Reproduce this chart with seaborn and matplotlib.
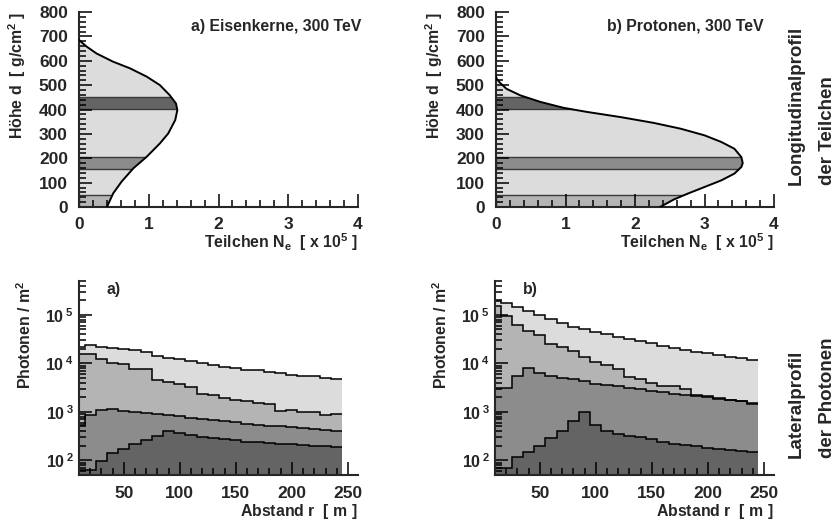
import numpy as np
import pandas as pd
import matplotlib
matplotlib.use("Agg")
import matplotlib.pyplot as plt
from matplotlib.patches import Rectangle
from matplotlib.ticker import MultipleLocator, LogLocator, NullFormatter, FuncFormatter
import seaborn as sns

# ---------------- longitudinal profiles (depth in g/cm^2, N_e in 1e5) ----------
fe_depth = [0, 56, 104, 159, 206, 261, 302, 357, 398, 425, 459, 500, 535, 569, 596, 630, 658, 685]
fe_ne = [0.40, 0.49, 0.61, 0.78, 0.97, 1.16, 1.28, 1.38, 1.41, 1.39, 1.30, 1.16, 0.97, 0.73, 0.49, 0.25, 0.11, 0.0]

p_depth = [0, 31, 55, 82, 109, 137, 164, 180, 205, 239, 267, 294, 321, 345, 369, 390, 407, 431, 458, 485, 509, 526, 536]
p_ne = [2.36, 2.56, 2.76, 3.00, 3.24, 3.43, 3.53, 3.55, 3.53, 3.43, 3.24, 3.00, 2.66, 2.27, 1.79, 1.31, 0.97, 0.64, 0.35, 0.15, 0.06, 0.01, 0.0]

# depth ranges highlighted in the longitudinal profiles
band_lo = [0, 157, 401]
band_hi = [50, 207, 451]

# ---------------- lateral photon densities (photons / m^2) ---------------------
r_edges = [5, 15, 25, 35, 45, 55, 65, 75, 85, 95, 105, 115, 125,
           135, 145, 155, 165, 175, 185, 195, 205, 215, 225, 235, 245]
r_centers = [10, 20, 30, 40, 50, 60, 70, 80, 90, 100, 110, 120,
             130, 140, 150, 160, 170, 180, 190, 200, 210, 220, 230, 240]

fe_lat_1 = [2.2e4, 2.4e4, 2.2e4, 2.07e4, 2.0e4, 1.9e4, 1.7e4, 1.42e4, 1.27e4, 1.21e4, 1.12e4, 1.0e4,
            9.2e3, 8.5e3, 8.0e3, 7.4e3, 7.2e3, 6.6e3, 6.2e3, 5.8e3, 5.6e3, 5.4e3, 5.05e3, 4.8e3]
fe_lat_2 = [1.6e4, 1.53e4, 1.25e4, 1.02e4, 9.6e3, 7.8e3, 7.5e3, 4.5e3, 4.2e3, 3.7e3, 3.2e3, 2.3e3,
            2.2e3, 1.97e3, 1.8e3, 1.71e3, 1.53e3, 1.48e3, 1.03e3, 1.11e3, 1.01e3, 980, 880, 920]
fe_lat_3 = [540, 877, 1110, 1150, 1060, 1000, 935, 906, 850, 810, 750, 713,
            690, 638, 608, 562, 536, 519, 502, 487, 456, 443, 415, 395]
fe_lat_4 = [63, 63, 98, 141, 171, 216, 266, 322, 395, 366, 327, 302,
            290, 275, 258, 245, 234, 227, 220, 213, 206, 200, 197, 185]

p_lat_1 = [1.95e5, 1.75e5, 1.43e5, 1.18e5, 9.9e4, 8.2e4, 6.7e4, 5.75e4, 5.07e4, 4.5e4, 4.0e4, 3.5e4,
           3.2e4, 2.9e4, 2.6e4, 2.29e4, 2.05e4, 1.89e4, 1.75e4, 1.61e4, 1.47e4, 1.38e4, 1.27e4, 1.17e4]
p_lat_2 = [1.5e5, 9.3e4, 6.3e4, 4.7e4, 3.8e4, 2.5e4, 2.18e4, 1.83e4, 1.33e4, 1.08e4, 9.4e3, 7.8e3,
           5.3e3, 4.8e3, 4.0e3, 3.5e3, 3.4e3, 2.9e3, 2.28e3, 2.1e3, 1.95e3, 1.8e3, 1.7e3, 1.5e3]
p_lat_3 = [3.1e3, 3.1e3, 5.4e3, 8.0e3, 6.2e3, 5.5e3, 5.0e3, 4.66e3, 4.3e3, 3.85e3, 3.55e3, 3.4e3,
           3.1e3, 2.9e3, 2.67e3, 2.54e3, 2.39e3, 2.28e3, 2.14e3, 2.04e3, 1.88e3, 1.74e3, 1.66e3, 1.48e3]
p_lat_4 = [69, 69, 116, 152, 200, 288, 400, 638, 1010, 545, 408, 354,
           320, 302, 275, 238, 220, 207, 194, 182, 173, 165, 157, 148]

GREYS = ["#dcdcdc", "#b4b4b4", "#8c8c8c", "#646464"]
BAND_COLORS = ["#b4b4b4", "#8c8c8c", "#646464"]
TICK_FS = 12.5
LOG_FS = 11.5
TEXT_FS = 11.4
SIDE_FS = 13.5
W, H = 835.0, 522.0

# fills sit below the axis layer (zorder 0.5) so the inward ticks stay visible
Z_FILL, Z_BAND, Z_EDGE, Z_CURVE = 0.1, 0.2, 0.3, 3


def log_label(v, pos):
    if v <= 0:
        return ""
    e = int(round(np.log10(v)))
    return r"$10^{\;%d}$" % e


def build(level):
    """Draw the whole figure; higher levels use plainer axis styling."""
    plt.close("all")
    sns.set_style("ticks")
    rc = {
        "font.family": ["Liberation Sans", "DejaVu Sans"],
        "font.weight": "bold",
        "axes.labelweight": "bold",
        "mathtext.fontset": "custom",
        "mathtext.rm": "Liberation Sans",
        "mathtext.bf": "Liberation Sans:bold",
        "mathtext.it": "Liberation Sans:italic:bold",
        "mathtext.default": "bf",
    }
    if level < 3:
        rc.update({"xtick.labelsize": TICK_FS, "ytick.labelsize": TICK_FS,
                   "xtick.major.pad": 7.5, "xtick.minor.pad": 7.5,
                   "ytick.major.pad": 8.0, "ytick.minor.pad": 8.0})
    else:
        rc.update({"xtick.labelsize": TICK_FS, "ytick.labelsize": TICK_FS,
                   "xtick.major.pad": 3.5, "xtick.minor.pad": 3.4,
                   "ytick.major.pad": 3.5, "ytick.minor.pad": 3.4})
    plt.rcParams.update(rc)

    fig = plt.figure(figsize=(8.35, 5.22), dpi=100)
    ax_a = fig.add_axes([79 / W, 315 / H, 279 / W, 195 / H])
    ax_b = fig.add_axes([496 / W, 315 / H, 278 / W, 195 / H])
    ax_c = fig.add_axes([79 / W, 47 / H, 279 / W, 194 / H])
    ax_d = fig.add_axes([495 / W, 47 / H, 279 / W, 194 / H])

    def put_text(ax, x, y, s, **kw):
        if level >= 2:
            fig.text(x, y, s, transform=ax.transAxes, fontweight="bold", **kw)
        else:
            ax.text(x, y, s, transform=ax.transAxes, fontweight="bold", **kw)

    def frame(ax):
        for side in ("top", "right"):
            if level >= 1:
                ax.spines[side].set_color("none")
            else:
                ax.spines[side].set_visible(False)
        if level < 1:
            ax.spines["left"].set_linewidth(1.5)
            ax.spines["bottom"].set_linewidth(1.5)
        ax.tick_params(which="major", direction="in", length=9.2, width=1.1, color="black")
        ax.tick_params(which="minor", direction="in", length=4.8, width=1.1, color="black")

    def longitudinal(ax, depth, ne, title):
        poly = ax.fill_betweenx(depth, 0, ne, color=GREYS[0], lw=0, zorder=Z_FILL)
        clip_path = poly.get_paths()[0]
        for lo, hi, col in zip(band_lo, band_hi, BAND_COLORS):
            rect = Rectangle((0, lo), 5, hi - lo, facecolor=col, edgecolor="#3a3a3a",
                             lw=1.0, zorder=Z_BAND)
            ax.add_patch(rect)
            rect.set_clip_path(clip_path, ax.transData)
        sns.lineplot(x=ne, y=depth, orient="y", sort=False, estimator=None,
                     color="black", lw=1.4, ax=ax, zorder=Z_CURVE)
        ax.set_xlim(0, 4)
        ax.set_ylim(0, 800)
        ax.xaxis.set_major_locator(MultipleLocator(1))
        ax.xaxis.set_minor_locator(MultipleLocator(0.2))
        ax.yaxis.set_major_locator(MultipleLocator(100))
        if level < 4:
            ax.yaxis.set_minor_locator(MultipleLocator(20))
            ax.set_xlabel("")
            ax.set_ylabel("")
        put_text(ax, 0.40, 0.903, title, ha="left", va="baseline", fontsize=TEXT_FS)
        put_text(ax, 1.0, -0.21, r"Teilchen N$_{e}$  $\mathrm{[}$ x 10$^{5}$ $\mathrm{]}$",
                 ha="right", va="baseline", fontsize=TEXT_FS)
        put_text(ax, -0.222, 1.0, r"Höhe d  $\mathrm{[}$ g/cm$^{2}$ $\mathrm{]}$",
                 rotation=90, ha="center", va="top", fontsize=TEXT_FS)
        frame(ax)

    def lateral(ax, layers, tag):
        ax.set_yscale("log")
        for vals, col in zip(layers, GREYS):
            if level >= 4:
                ax.stairs(vals, r_edges, fill=True, baseline=1, color=col, lw=0, zorder=Z_FILL)
            else:
                df = pd.DataFrame({"r": r_centers, "n": vals})
                sns.histplot(data=df, x="r", weights="n", bins=r_edges, element="step",
                             fill=True, color=col, alpha=1, linewidth=0, ax=ax, zorder=Z_FILL)
        for vals in layers:
            ax.stairs(vals, r_edges, baseline=None, color="black", lw=1.1, zorder=Z_EDGE)
        ax.set_xlim(10, 259)
        ax.set_ylim(50, 5e5)
        ax.xaxis.set_major_locator(MultipleLocator(50))
        ax.xaxis.set_minor_locator(MultipleLocator(10))
        ax.yaxis.set_major_locator(LogLocator(base=10))
        ax.yaxis.set_major_formatter(FuncFormatter(log_label))
        ax.yaxis.set_minor_locator(LogLocator(base=10, subs=np.arange(2, 10)))
        ax.yaxis.set_minor_formatter(NullFormatter())
        ax.set_xlabel("")
        ax.set_ylabel("")
        put_text(ax, 0.10, 0.935, tag, ha="left", va="baseline", fontsize=TEXT_FS)
        put_text(ax, 1.0, -0.211, r"Abstand r  $\mathrm{[}$ m $\mathrm{]}$",
                 ha="right", va="baseline", fontsize=TEXT_FS)
        put_text(ax, -0.195, 1.0, r"Photonen / m$^{2}$", rotation=90,
                 ha="center", va="top", fontsize=TEXT_FS)
        frame(ax)
        if level < 3:
            ax.tick_params(axis="y", which="major", pad=3.5, labelsize=LOG_FS)
            ax.tick_params(axis="x", which="major", pad=8.2)
        else:
            ax.tick_params(axis="y", which="major", labelsize=LOG_FS)

    longitudinal(ax_a, fe_depth, fe_ne, "a) Eisenkerne, 300 TeV")
    longitudinal(ax_b, p_depth, p_ne, "b) Protonen, 300 TeV")
    lateral(ax_c, [fe_lat_1, fe_lat_2, fe_lat_3, fe_lat_4], "a)")
    lateral(ax_d, [p_lat_1, p_lat_2, p_lat_3, p_lat_4], "b)")

    # row captions on the right
    for x, y, s in [(796, 185, "Longitudinalprofil"), (827, 185, "der Teilchen"),
                    (796, 458, "Lateralprofil"), (827, 458, "der Photonen")]:
        fig.text(x / W, 1 - y / H, s, rotation=90, ha="center", va="bottom",
                 fontsize=SIDE_FS, fontweight="bold")
    return fig


def ticks_drawn(fig):
    """True if the inward x ticks of the upper-left panel appear in the raster."""
    fig.canvas.draw()
    img = np.asarray(fig.canvas.buffer_rgba())[..., :3].astype(int)
    col = int(round(79 + 0.75 * 279))          # N_e = 3, right of the curve
    patch = img[int(H - 315) - 11:int(H - 315) - 3, col - 2:col + 3]
    return bool((patch.sum(axis=2) < 350).any())


for level in range(5):
    fig = build(level)
    if ticks_drawn(fig):
        break

fig.savefig("out.png", dpi=100, facecolor="white")
